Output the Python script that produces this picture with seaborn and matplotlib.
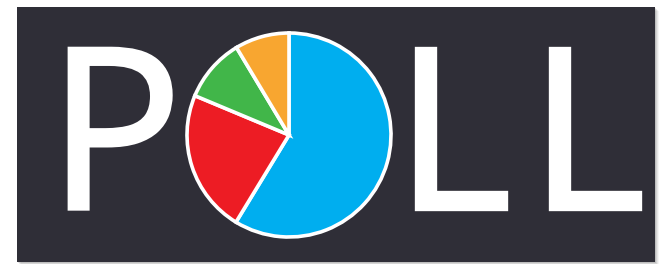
import matplotlib
matplotlib.use("Agg")
import matplotlib.pyplot as plt
import matplotlib.patheffects as pe
import seaborn as sns
from matplotlib.patches import Rectangle

sns.set_theme(style="white")
plt.rcParams['font.family'] = ['Open Sans', 'DejaVu Sans']

# Data
letters = ["P", "L", "L"]
letter_centers = [115, 453, 587]
shares = [58.7, 22.6, 10.1, 8.6]
share_labels = ["Blue", "Red", "Green", "Orange"]
share_colors = ["#00AEEF", "#ED1C24", "#41B649", "#F8A630"]

W, H = 662, 264
BG = "#2F2E37"
fig = plt.figure(figsize=(W / 100, H / 100), dpi=100)
fig.patch.set_facecolor("white")

ax = fig.add_axes([0, 0, 1, 1])
ax.set_xlim(0, W)
ax.set_ylim(H, 0)
ax.axis("off")

# soft shadow
for i, a in enumerate([0.10, 0.08, 0.06, 0.04]):
    ax.add_patch(Rectangle((17 + 1 + i, 7 + 1 + i), 638, 255, facecolor="black",
                           edgecolor="none", alpha=a, zorder=0))
ax.add_patch(Rectangle((17, 7), 638, 255, facecolor=BG, edgecolor="none", zorder=1))

for ch, cx in zip(letters, letter_centers):
    ax.text(cx, 209, ch, ha="center", va="baseline", color="white",
            fontsize=162, fontweight="normal", zorder=3,
            path_effects=[pe.withStroke(linewidth=2.4, foreground="white",
                                        joinstyle="miter")])

# pie
cx, cy, R = 289, 135, 110
pax = fig.add_axes([(cx - R) / W, (H - cy - R) / H, 2 * R / W, 2 * R / H])
pax.set_xlim(-1.1, 1.1)
pax.set_ylim(-1.1, 1.1)
pax.axis("off")
pax.patch.set_alpha(0)
pax.pie(shares, colors=share_colors, startangle=90, counterclock=False,
        radius=1.02, labels=None,
        wedgeprops=dict(edgecolor="white", linewidth=2.6))
pax.set_xlim(-1.1, 1.1)
pax.set_ylim(-1.1, 1.1)

fig.savefig("out.png", dpi=100, facecolor="white")
